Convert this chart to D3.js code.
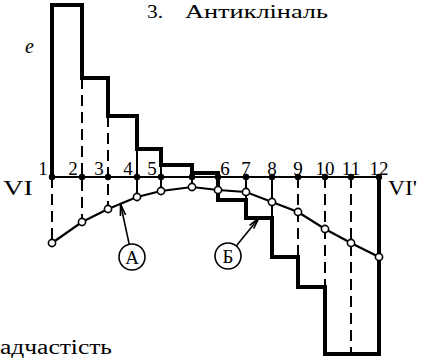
<!DOCTYPE html>
<html>
<head>
<meta charset="utf-8">
<script src="https://cdn.jsdelivr.net/npm/d3@7"></script>
<style>
  body { margin: 0; background: #fff; }
  svg { display: block; }
  text { font-family: "Liberation Serif", "Times New Roman", serif; fill: #000; }
</style>
</head>
<body>
<div id="chart"></div>
<script>
// точки профілю (відстань вздовж лінії VI-VI')
const pointLabels = ['1', '2', '3', '4', '5', '', '6', '7', '8', '9', '10', '11', '12'];
const distance = [0, 30, 56, 85, 109, 140, 166, 194, 220, 246, 273, 299, 327];
// ступінчаста епюра e між сусідніми точками
const stepValues = [172, 99, 61, 28, 12, 4, -23, -41, -80, -110, -177, -177];
// крива (А) у точках
const curveValues = [-66, -45, -32, -20, -14, -10, -13, -15, -25, -35, -52, -66, -80];

const width = 427, height = 358;
const svg = d3.select('#chart').append('svg').attr('width', width).attr('height', height);
svg.append('rect').attr('width', width).attr('height', height).attr('fill', '#fff');

const x = d3.scaleLinear().domain([0, 327]).range([52, 379]);
const y = d3.scaleLinear().domain([-177, 172]).range([354, 5]);
const y0 = y(0);

// вертикальні тонкі лінії від епюри до кривої
distance.forEach((d, i) => {
  const left = i > 0 ? stepValues[i - 1] : 0;
  const right = i < stepValues.length ? stepValues[i] : 0;
  let inner = 0;
  if (left * right > 0) inner = Math.abs(left) < Math.abs(right) ? left : right;
  const ys = [y(inner), y0, y(curveValues[i])];
  const top = d3.min(ys), bot = d3.max(ys);
  svg.append('line')
    .attr('x1', x(d)).attr('x2', x(d))
    .attr('y1', top).attr('y2', bot)
    .attr('stroke', '#000').attr('stroke-width', 2)
    .attr('stroke-dasharray', bot - top > 60 ? '11,6' : null);
});

// лінія профілю VI-VI'
svg.append('line')
  .attr('x1', x(0)).attr('x2', x(327))
  .attr('y1', y0).attr('y2', y0)
  .attr('stroke', '#000').attr('stroke-width', 2);

// ступінчаста лінія (Б)
const stepPts = [[distance[0], 0]];
stepValues.forEach((v, i) => {
  stepPts.push([distance[i], v]);
  stepPts.push([distance[i + 1], v]);
});
stepPts.push([distance[distance.length - 1], 0]);
svg.append('path')
  .attr('d', d3.line().x(d => x(d[0])).y(d => y(d[1]))(stepPts))
  .attr('fill', 'none').attr('stroke', '#000').attr('stroke-width', 4)
  .attr('stroke-linejoin', 'miter');

// крива (А)
svg.append('path')
  .attr('d', d3.line().x((d, i) => x(distance[i])).y(d => y(d))(curveValues))
  .attr('fill', 'none').attr('stroke', '#000').attr('stroke-width', 2.2);

svg.selectAll('.pt')
  .data(distance)
  .enter().append('circle')
  .attr('cx', d => x(d)).attr('cy', y0).attr('r', 3.2)
  .attr('fill', '#000');

svg.selectAll('.cp')
  .data(curveValues)
  .enter().append('circle')
  .attr('cx', (d, i) => x(distance[i])).attr('cy', d => y(d)).attr('r', 3.6)
  .attr('fill', '#fff').attr('stroke', '#000').attr('stroke-width', 1.6);

// номери точок
const labelDx = i => i <= 4 ? -9 : (i === 6 ? 7 : 0);
svg.selectAll('.lbl')
  .data(pointLabels)
  .enter().append('text')
  .attr('x', (d, i) => x(distance[i]) + labelDx(i))
  .attr('y', y0 - 2)
  .attr('text-anchor', 'middle')
  .attr('font-size', 19)
  .text(d => d);

function stretched(tx, ty, size, len, str) {
  return svg.append('text').attr('x', tx).attr('y', ty).attr('font-size', size)
    .attr('textLength', len).attr('lengthAdjust', 'spacingAndGlyphs').text(str);
}
stretched(3, 195, 22, 30, 'VI');
stretched(388, 195, 22, 29, "VI'");
svg.append('text').attr('x', 25).attr('y', 53).attr('font-size', 20).attr('font-style', 'italic').text('e');
stretched(147, 18, 19, 16, '3.');
stretched(185, 18, 19, 143, 'Антикліналь');
stretched(0, 354, 20, 112, 'адчастість');

// позначки А і Б зі стрілками
function callout(cx, cy, tx, ty, label) {
  const r = 13;
  const ang = Math.atan2(ty - cy, tx - cx);
  const sx = cx + r * Math.cos(ang), sy = cy + r * Math.sin(ang);
  svg.append('line').attr('x1', sx).attr('y1', sy).attr('x2', tx).attr('y2', ty)
    .attr('stroke', '#000').attr('stroke-width', 1.6);
  const back = ang + Math.PI, len = 12, spread = 0.22;
  [-spread, spread].forEach(s => {
    svg.append('line')
      .attr('x1', tx).attr('y1', ty)
      .attr('x2', tx + len * Math.cos(back + s)).attr('y2', ty + len * Math.sin(back + s))
      .attr('stroke', '#000').attr('stroke-width', 1.6);
  });
  svg.append('circle').attr('cx', cx).attr('cy', cy).attr('r', r)
    .attr('fill', '#fff').attr('stroke', '#000').attr('stroke-width', 1.6);
  svg.append('text').attr('x', cx).attr('y', cy + 6.5).attr('text-anchor', 'middle')
    .attr('font-size', 19).text(label);
}
const aTip = [(x(distance[2]) + x(distance[3])) / 2 - 2, (y(curveValues[2]) + y(curveValues[3])) / 2 + 1];
const bTip = [(x(distance[7]) + x(distance[8])) / 2, y(stepValues[7])];
callout(132, 257, aTip[0], aTip[1], 'А');
callout(228, 256, bTip[0], bTip[1], 'Б');
</script>
</body>
</html>
